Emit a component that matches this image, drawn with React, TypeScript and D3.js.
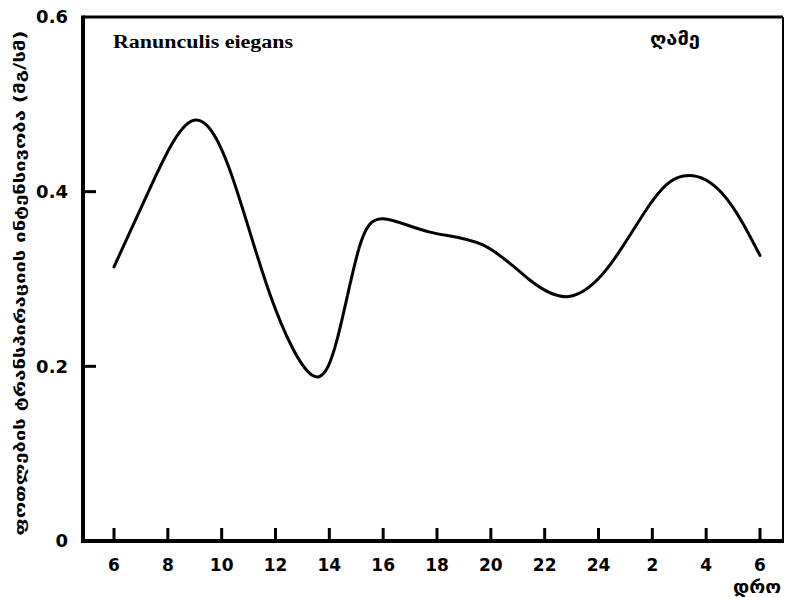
import React from "react";
import * as d3 from "d3";

const hours = [6, 7.4, 8.9, 10.3, 11.8, 13.35, 14.3, 15.1, 16.0, 17.7, 19.7, 21.4, 22.9, 24.4, 25.9, 27.15, 28.6, 30];
const values = [0.314, 0.408, 0.481, 0.425, 0.282, 0.19, 0.232, 0.335, 0.369, 0.354, 0.339, 0.3, 0.28, 0.315, 0.385, 0.418, 0.398, 0.327];
const xTickHours = [6, 8, 10, 12, 14, 16, 18, 20, 22, 24, 26, 28, 30];
const xTickLabels = ["6", "8", "10", "12", "14", "16", "18", "20", "22", "24", "2", "4", "6"];
const yTicks = [0, 0.2, 0.4, 0.6];
const yTickLabels = ["0", "0.2", "0.4", "0.6"];
const speciesLabel = "Ranunculis eiegans";
const periodLabel = "ღამე";
const xAxisTitle = "დრო";
const yAxisTitle = "ფოთლების ტრანსპირაციის ინტენსივობა (მგ/სმ)";

export default function App() {
  const W = 788, H = 597;
  const left = 83, right = 783, top = 17, bottom = 541;
  const x = d3.scaleLinear().domain([6, 30]).range([114, 760]);
  const y = d3.scaleLinear().domain([0, 0.6]).range([bottom, top]);
  const pts = hours.map((h, i) => [h, values[i]] as [number, number]);
  const line = d3.line<[number, number]>().x(d => x(d[0])).y(d => y(d[1])).curve(d3.curveNatural);
  return (
    <svg width={W} height={H} style={{ position: "absolute", left: 0, top: 0, background: "#fff" }}>
      <rect x={0} y={0} width={W} height={H} fill="#fff" />
      <line x1={left} x2={right} y1={top} y2={top} stroke="#000" strokeWidth={3} />
      <line x1={right} x2={right} y1={top} y2={bottom} stroke="#000" strokeWidth={2} />
      <line x1={left} x2={left} y1={top - 1.5} y2={bottom + 2} stroke="#000" strokeWidth={4} />
      <line x1={left - 2} x2={right + 1} y1={bottom} y2={bottom} stroke="#000" strokeWidth={4} />
      {yTicks.map((t, i) => (
        <g key={"y" + i}>
          {t > 0 && t < 0.6 && <line x1={left} x2={left + 13} y1={y(t)} y2={y(t)} stroke="#000" strokeWidth={3} />}
          <text x={68} y={y(t)} dy="0.36em" textAnchor="end" fontFamily="DejaVu Sans" fontWeight="bold" fontSize={18}>{yTickLabels[i]}</text>
        </g>
      ))}
      {xTickHours.map((h, i) => (
        <g key={"x" + i}>
          <line x1={x(h)} x2={x(h)} y1={bottom} y2={bottom - 13} stroke="#000" strokeWidth={3} />
          <text x={x(h)} y={571} textAnchor="middle" fontFamily="DejaVu Sans" fontWeight="bold" fontSize={17}>{xTickLabels[i]}</text>
        </g>
      ))}
      <path d={line(pts) || ""} fill="none" stroke="#000" strokeWidth={3} strokeLinejoin="round" strokeLinecap="round" />
      <text x={113} y={48} fontFamily="Liberation Serif" fontWeight="bold" fontSize={18} textLength={180} lengthAdjust="spacingAndGlyphs">{speciesLabel}</text>
      <text x={650} y={45} fontFamily="DejaVu Sans" fontWeight="bold" fontSize={18} textLength={50} lengthAdjust="spacingAndGlyphs">{periodLabel}</text>
      <text x={733} y={593} fontFamily="DejaVu Sans" fontWeight="bold" fontSize={18} textLength={48} lengthAdjust="spacingAndGlyphs">{xAxisTitle}</text>
      <text transform={`translate(25,${283}) rotate(-90)`} textAnchor="middle" fontFamily="DejaVu Sans" fontWeight="bold" fontSize={15} textLength={505} lengthAdjust="spacingAndGlyphs">{yAxisTitle}</text>
    </svg>
  );
}
